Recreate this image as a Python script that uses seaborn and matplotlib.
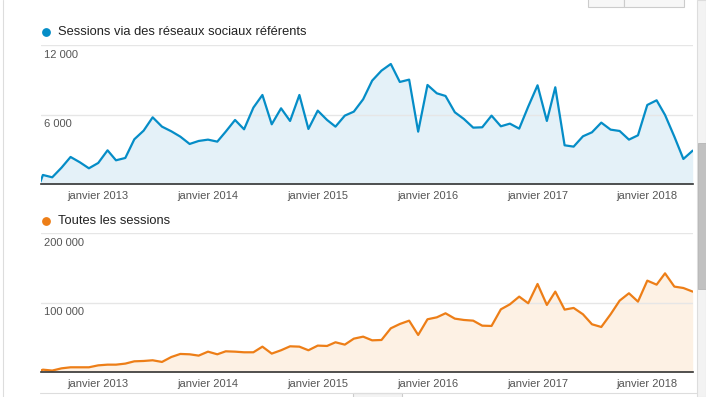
import seaborn as sns
import matplotlib.pyplot as plt
import matplotlib.patches as mpatches
import pandas as pd

# monthly data, first point is a partial month at the start of the range
months = ["2012-06-23"] + [d.strftime("%Y-%m-%d") for d in pd.date_range("2012-07-01", "2018-06-01", freq="MS")]

social_sessions = [
    230,
    806, 604, 1439, 2360, 1899, 1381,
    1842, 2935, 2072, 2273, 3885, 4633, 5784, 4978, 4576, 4115, 3482, 3741,
    3856, 3683, 4547, 5554, 4748, 6619, 7712, 5180, 6561, 5468, 7712, 4777,
    6360, 5554, 4978, 5928, 6273, 7338, 8950, 9813, 10388, 8835, 9036, 4547,
    8576, 7856, 7626, 6216, 5640, 4892, 4921, 5928, 5007, 5237, 4806, 6705,
    8547, 5468, 8374, 3367, 3252, 4144, 4489, 5324, 4719, 4604, 3856, 4230,
    6849, 7252, 5986, 4115, 2187, 2906,
]

all_sessions = [
    2400,
    3800, 2500, 5700, 7200, 7200, 7200,
    10000, 11000, 11000, 12500, 15800, 16300, 17300, 14900, 22000, 26400, 25900, 24000,
    29700, 25900, 30200, 29700, 28800, 28800, 36900, 26900, 31700, 37400, 36900, 31700,
    38400, 37900, 43200, 39800, 48400, 51300, 46000, 46500, 63300, 69500, 74300, 53700,
    76300, 79100, 84900, 77200, 75300, 74300, 67100, 66700, 90600, 97800, 108900, 99300,
    127100, 96900, 116100, 90200, 92600, 83500, 69100, 65200, 83500, 103100, 113700, 101700,
    131900, 126100, 142400, 123300, 121300, 116100,
]

year_ticks = ["2013-01-01", "2014-01-01", "2015-01-01", "2016-01-01", "2017-01-01", "2018-01-01"]
year_labels = ["janvier 2013", "janvier 2014", "janvier 2015", "janvier 2016", "janvier 2017", "janvier 2018"]

top_ticks = [6000, 12000]
bottom_ticks = [100000, 200000]

top_name = "Sessions via des réseaux sociaux référents"
bottom_name = "Toutes les sessions"

sns.set_style("white")
plt.rcParams["font.family"] = ["Liberation Sans", "DejaVu Sans"]

dates = pd.to_datetime(months)
W, H = 706, 397
fig = plt.figure(figsize=(W / 100, H / 100), dpi=100)


def px_axes(left, top, right, bottom):
    return fig.add_axes([left / W, 1 - bottom / H, (right - left) / W, (bottom - top) / H])


ax1 = px_axes(40.5, 45.3, 693.3, 184.3)
ax2 = px_axes(40.5, 233.3, 693.3, 372.3)

panels = [
    (ax1, social_sessions, top_ticks, "#058dc7", "#e4f1f8", top_name, 32.3),
    (ax2, all_sessions, bottom_ticks, "#ed7e17", "#fdf1e4", bottom_name, 220.7),
]

for ax, vals, yt, line_col, fill_col, name, legend_y in panels:
    ax.fill_between(dates, vals, color=fill_col, lw=0, zorder=1)
    sns.lineplot(x=dates, y=vals, ax=ax, color=line_col, linewidth=1.6, zorder=3)
    ax.set_xlim(pd.Timestamp("2012-06-23"), pd.Timestamp("2018-06-03"))
    ax.set_ylim(0, yt[-1])
    ax.set_yticks(yt)
    ax.set_yticklabels([])
    ax.yaxis.grid(True, color="#e6e6e6", linewidth=1, zorder=2)
    ax.set_axisbelow(False)
    ax.tick_params(axis="y", length=0)
    for v in yt:
        ax.annotate(f"{v:,}".replace(",", " "), xy=(0, v), xycoords=ax.get_yaxis_transform(),
                    xytext=(2.2, -3.2), textcoords="offset points", ha="left", va="top",
                    fontsize=8, color="#555555", zorder=4)
    ax.set_xticks(pd.to_datetime(year_ticks))
    ax.set_xticklabels(year_labels, fontsize=8, color="#555555")
    ax.tick_params(axis="x", length=0, pad=5)
    ax.set_xlabel("")
    ax.set_ylabel("")
    for s in ["top", "left", "right"]:
        ax.spines[s].set_visible(False)
    ax.spines["bottom"].set_color("#333333")
    ax.spines["bottom"].set_linewidth(1.2)
    ax.spines["bottom"].set_zorder(5)
    # legend dot and series name
    fig.add_artist(plt.Line2D([45.5 / W], [1 - legend_y / H], marker="o", markersize=5.3,
                              color=line_col, transform=fig.transFigure))
    fig.text(58.3 / W, 1 - legend_y / H, name, fontsize=9.3, color="#222222", va="center", ha="left")

# page chrome: scrollbar, buttons, borders
fig.add_artist(mpatches.Rectangle((697 / W, 0), 9 / W, 1, transform=fig.transFigure,
                                  facecolor="#f3f3f3", edgecolor="#dddddd", lw=0.8))
fig.add_artist(mpatches.Rectangle((697.5 / W, 1 - 289.3 / H), 8.5 / W, 146 / H, transform=fig.transFigure,
                                  facecolor="#c1c1c1", edgecolor="#b5b5b5", lw=0.6))
for bx0, bx1 in [(587.7, 624.3), (624.3, 684)]:
    fig.add_artist(mpatches.Rectangle((bx0 / W, 1 - 7 / H), (bx1 - bx0) / W, 10 / H, transform=fig.transFigure,
                                      facecolor="#f7f7f7", edgecolor="#cccccc", lw=0.8))
fig.add_artist(plt.Line2D([3.3 / W, 3.3 / W], [0, 1], color="#dddddd", lw=0.8, transform=fig.transFigure))
fig.add_artist(plt.Line2D([40 / W, 697 / W], [1 - 393.3 / H, 1 - 393.3 / H], color="#dddddd", lw=0.8,
                          transform=fig.transFigure))
fig.add_artist(mpatches.Rectangle((352.7 / W, -0.01), 49 / W, 4.5 / H + 0.01, transform=fig.transFigure,
                                  facecolor="#f3f3f3", edgecolor="#cccccc", lw=0.8))

fig.savefig("out.png", dpi=100)
